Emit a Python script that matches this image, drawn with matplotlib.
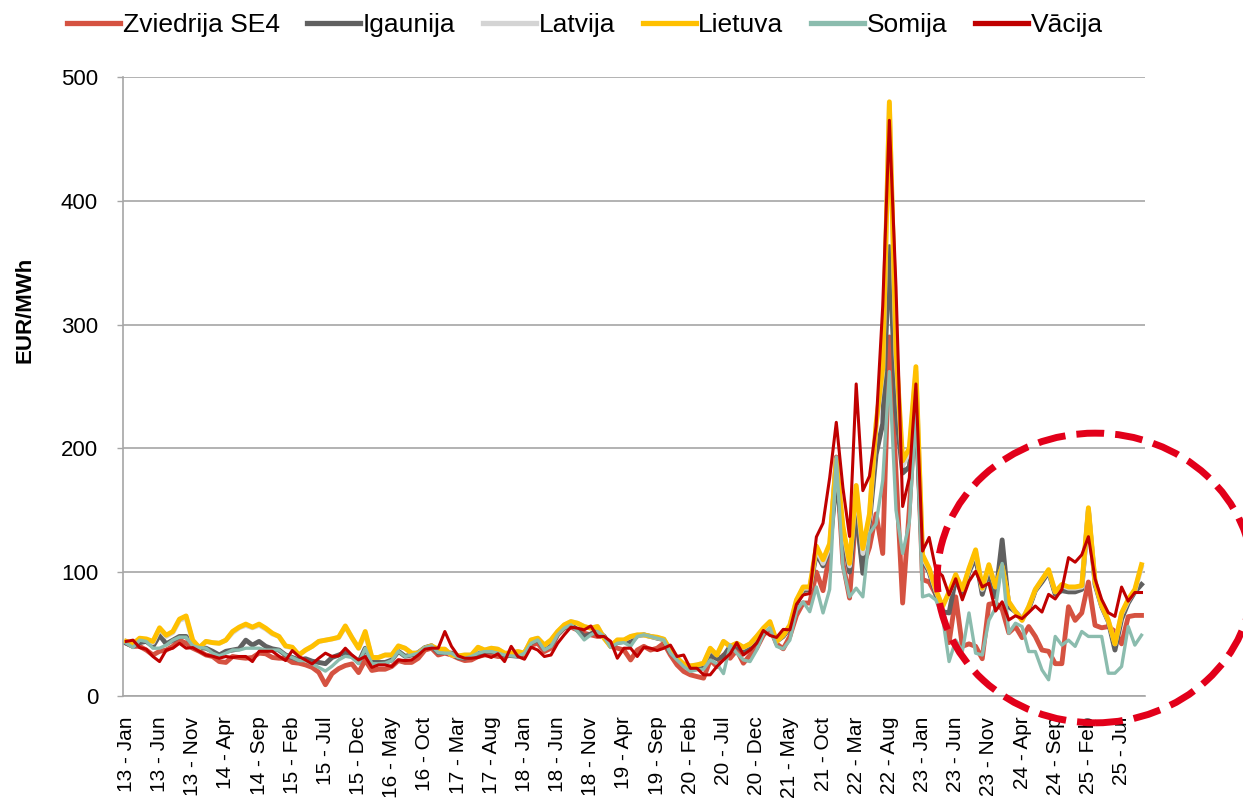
import matplotlib
matplotlib.use("Agg")
import matplotlib.pyplot as plt
from matplotlib.lines import Line2D
from matplotlib.patches import Ellipse

plt.rcParams['font.family'] = ['Liberation Sans', 'DejaVu Sans']

# monthly averages, Jan 2013 .. Oct 2025 (EUR/MWh)
zviedrija = [
    42.5, 40, 40, 37, 33, 36, 37, 40, 45, 42.5, 38.5, 36,
    33, 31.8, 27.7, 27, 31.8, 31, 30.4, 31, 34.5, 34, 31, 30.4,
    30.4, 27, 26.4, 25, 23, 19, 9, 18, 22, 24.5, 25.8, 18.8,
    29, 20.5, 21.5, 21.5, 23.7, 28.5, 27, 27, 30.4, 37, 38.5, 33,
    34.5, 33, 30.4, 28.5, 29, 31.8, 33, 33, 31.8, 31.8, 33, 33,
    33, 41, 42.5, 35.8, 38.5, 49.3, 54.7, 55.5, 53.3, 50.6, 49.3, 48,
    48, 40, 38.5, 37, 29, 37, 40, 37, 38.5, 42.5, 33, 25,
    19.7, 17, 15.6, 14.3, 29, 23.7, 33, 30.4, 37, 26.4, 33, 38.5,
    49, 55, 42, 38, 48, 65, 75, 75, 100, 85, 115, 193,
    107, 79, 150, 104, 120, 147, 115, 290, 180, 75, 150, 240,
    94, 92, 82, 70, 43, 80, 40, 42, 40, 30, 74, 75,
    70, 51, 56, 47, 56, 48, 37, 36, 26, 26, 72, 61,
    67, 92, 57, 55, 56, 52, 42, 64, 65, 65]

igaunija = [
    42.5, 40, 43, 44, 40, 49, 42, 45, 48, 48, 42, 39,
    38.5, 36, 33, 36, 37, 38, 45, 41, 44, 40, 38, 37,
    33, 31, 29, 30, 28, 27, 26, 31, 33, 35, 32, 27,
    38.5, 27, 27, 27, 29, 36, 32, 33, 35, 39, 40.5, 35,
    35, 34.5, 31, 30.4, 31.8, 34.5, 36, 36, 35, 33, 32.5, 32,
    35, 43, 45.5, 38, 41, 50, 55, 58, 53, 48, 50, 53,
    48, 40, 43, 44, 43, 48.5, 49.3, 48, 46.6, 45.5, 35, 30,
    25, 22, 24, 24, 33, 30, 32, 40, 40, 36, 38, 45,
    52, 57, 44, 48, 55, 74, 85, 86, 115, 105, 118, 175,
    130, 100, 150, 99, 140, 195, 220, 363, 230, 180, 185, 230,
    110, 100, 82, 68, 67, 95, 82, 100, 112, 82, 100, 80,
    126, 72, 68, 62, 70, 85, 92, 100, 82, 85, 84, 84,
    86, 150, 90, 72, 60, 37, 62, 75, 84, 90]

latvija = [
    44, 42, 46, 45, 43, 54, 48, 51, 61, 63, 44, 39,
    44, 43, 42.5, 45, 51, 55, 57, 55, 57, 54, 50, 48,
    40, 39, 33, 37, 40, 44, 45, 46, 47, 56, 47, 38.5,
    50, 31, 31, 33, 33, 40, 38.5, 34.5, 34.5, 38.5, 40, 37.7,
    37.7, 33, 32.3, 33, 33, 39, 37, 38.5, 37.7, 34.5, 34.5, 35.8,
    34.5, 45, 46.6, 41, 45, 52, 57, 60, 58.7, 56, 54.7, 56,
    46.6, 40, 45, 45, 48, 49, 49, 48, 47, 45.8, 37, 30.4,
    25.8, 24.2, 25, 26.4, 38, 33, 44, 40, 42.5, 39, 42, 48,
    54, 59, 44, 49, 57, 77, 87, 87, 119, 107, 121, 189,
    135, 105, 168, 115, 145, 218, 262, 478, 275, 186, 197, 262,
    112, 102, 85, 72, 83, 97, 86, 102, 117, 86, 105, 88,
    104, 76, 68, 61, 72, 86, 94, 101, 84, 89, 87, 87,
    88, 151, 92, 73, 61, 42, 66, 77, 85, 104]

lietuva = [
    44, 42, 46.6, 46, 44, 55, 49, 52, 62, 64.6, 45, 39,
    44, 43, 42.5, 45, 52, 55.5, 58, 55.5, 58, 54.7, 50.6, 48,
    40.4, 39.3, 33, 37, 40, 44, 45, 46, 47.4, 56.5, 47, 38.5,
    52, 31, 31, 33, 33, 40.4, 38.5, 34.5, 34.5, 38.5, 40.4, 37.7,
    37.7, 33, 32.3, 33, 33, 39.3, 37, 38.5, 37.7, 34.5, 34.5, 35.8,
    34.5, 45.2, 46.6, 41, 45.2, 52, 57.4, 60, 58.7, 56, 54.7, 56,
    46.6, 40, 45.2, 45.2, 48, 49.3, 49.3, 48, 47.4, 45.8, 37, 30.4,
    25.8, 24.2, 25, 26.4, 38.5, 33, 44, 40, 42.5, 39.3, 42, 48,
    54.7, 60, 44, 49, 57, 77.5, 88, 88, 121, 110, 123, 191,
    137, 107, 170, 119, 147, 220, 265, 480, 280, 190, 200, 266,
    114, 103, 86, 72, 84, 98, 86, 103, 118, 87, 106, 88,
    105, 76, 68, 61, 72, 86, 94, 102, 84, 90, 88, 88,
    89, 152, 92, 73, 61, 42, 67, 78, 86, 106]

somija = [
    42.5, 39, 45, 44, 38.5, 38.5, 41, 45, 47.4, 47.4, 40.4, 39,
    38.5, 34.5, 32.3, 34.5, 37, 37, 38.5, 38.5, 38.5, 37, 37, 37,
    33, 31, 28.5, 28.5, 25.8, 23, 20, 24, 29, 32, 31, 26,
    38.5, 26, 26, 26.4, 28.5, 36, 31.8, 33, 34.5, 39, 40.4, 35,
    34.5, 34.5, 31, 30.4, 31.8, 34.5, 35.8, 35.8, 34.5, 33, 32.3, 31.8,
    34.5, 42.5, 45.2, 37, 40, 49.3, 54.7, 57.4, 52, 45.2, 49.3, 52,
    48, 39.3, 42.5, 43, 40, 48, 49.3, 48, 46.6, 45.2, 34.5, 29,
    23.7, 19.7, 21, 21.5, 29, 26, 18, 41, 34.5, 29, 27.7, 37,
    50, 55, 40, 38, 45, 69, 76, 68, 88, 67, 86, 193,
    104, 80, 87, 80, 131, 139, 174, 262, 150, 115, 140, 230,
    80, 81.6, 77.5, 64, 27.7, 45, 36, 67, 34.5, 33, 61, 71,
    107, 50.6, 58.7, 56, 35.8, 35.8, 21, 13, 48, 41, 45, 40,
    52, 48, 48, 48, 18.3, 18.3, 23.7, 56, 41, 49]

vacija = [
    44, 45, 39, 37.7, 31.8, 27.7, 37, 38.5, 42.5, 38.5, 39, 36,
    33, 32, 30.4, 31.8, 31, 31.8, 31.8, 27.7, 36, 36, 36, 32,
    28.5, 36.6, 31.8, 29, 25.8, 30.4, 34.5, 31.8, 32.3, 38.5, 33, 29,
    31.8, 23, 25, 25, 23.7, 29, 28.5, 29, 33, 37.7, 38.5, 38.5,
    52, 40, 32.3, 30.4, 30.4, 31, 33, 31, 34, 27.7, 40, 31.8,
    29.6, 39.3, 37, 31.8, 33, 42.5, 49.3, 55.5, 54.7, 53.3, 56.5, 48,
    48, 44, 30.4, 38.5, 38.5, 31.8, 39.3, 38.5, 36.6, 38.5, 41, 31.8,
    33, 22.3, 22.3, 17, 17, 23.7, 29, 34, 43, 33, 37, 42.5,
    52.8, 48.8, 47.2, 53.7, 53.3, 74, 81.5, 82.7, 128.4, 139.5, 176, 221,
    168, 128.8, 252, 165.8, 177.5, 218, 315, 465, 330, 153, 176, 252,
    117, 128, 102, 97, 81.6, 94.6, 77.6, 92.5, 100.6, 88, 91, 68.5,
    76, 61.3, 64.7, 62.4, 67.3, 72.6, 67.7, 82, 78.3, 86, 111.7, 108,
    114, 128.6, 94.6, 77.9, 67.2, 64.2, 87.9, 76.5, 83.5, 83.5]

names = ['Zviedrija SE4', 'Igaunija', 'Latvija', 'Lietuva', 'Somija', 'Vācija']
colors = ['#D55241', '#606060', '#D4D4D4', '#FFC000', '#8BBCAE', '#C00000']
widths = [3.5, 3.5, 3.5, 3.5, 2.4, 2.2]
series = [zviedrija, igaunija, latvija, lietuva, somija, vacija]

months = ['Jan', 'Feb', 'Mar', 'Apr', 'May', 'Jun',
          'Jul', 'Aug', 'Sep', 'Oct', 'Nov', 'Dec']
n = len(vacija)
labels = ['%d - %s' % (13 + i // 12, months[i % 12]) for i in range(n)]

fig = plt.figure(figsize=(12.43, 7.98), dpi=100)
ax = fig.add_axes([0.099, 0.128, 0.822, 0.7755])

x = list(range(n))
for vals, nm, c, w in zip(series, names, colors, widths):
    ax.plot(x, vals, color=c, lw=w, label=nm, solid_joinstyle='round')

ax.set_xlim(-0.5, n - 0.5)
ax.set_ylim(0, 500)
ax.set_yticks(range(0, 501, 100))
ax.set_xticks(x[::5])
ax.set_xticklabels(labels[::5], rotation=90, fontsize=15)
ax.tick_params(axis='x', length=0, pad=15)
ax.tick_params(axis='y', length=4, width=1, color='#A6A6A6', pad=14, labelsize=16)

ax.yaxis.grid(True, color='#A6A6A6', lw=1.2)
ax.set_axisbelow(True)
for s in ['top', 'right']:
    ax.spines[s].set_visible(False)
for s in ['left', 'bottom']:
    ax.spines[s].set_color('#A6A6A6')
    ax.spines[s].set_linewidth(1.2)

fig.text(25 / 1243, 1 - 310 / 798, 'EUR/MWh', rotation=90, ha='center',
         va='center', fontsize=16, fontweight='bold')

handles = [Line2D([], [], color=c, lw=3.8) for c in colors]
fig.legend(handles, names, loc='center', bbox_to_anchor=(0.4706, 0.969),
           ncol=6, frameon=False, fontsize=19, handlelength=2.0,
           handletextpad=0.1, columnspacing=1.05)

ring = Ellipse((0.881, 0.2757), 0.254, 0.363, transform=fig.transFigure,
               fill=False, ec='#E2001A', lw=5, ls=(0, (4, 1.6)), clip_on=False)
fig.patches.append(ring)

fig.savefig('out.png', dpi=100)
